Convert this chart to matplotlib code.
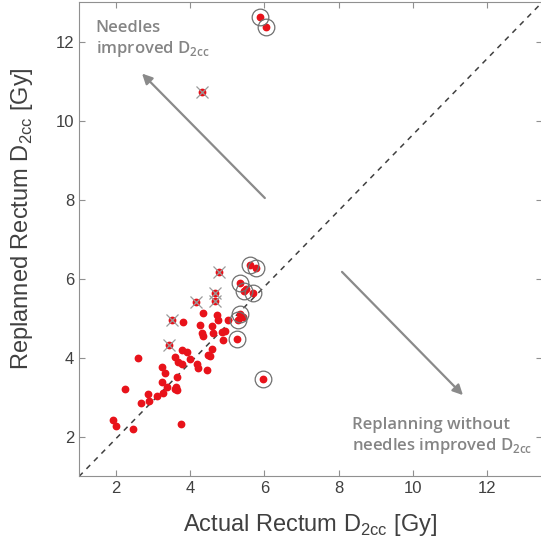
import matplotlib
matplotlib.use("Agg")
import matplotlib.pyplot as plt

# plain patients (red dots only)
x_plain = [1.93, 2.00, 2.24, 2.46, 2.60, 2.66, 2.89, 2.87, 3.10, 3.27, 3.23, 3.36,
           3.58, 3.63, 3.61, 3.63, 3.32, 3.23, 3.75, 3.58, 3.68, 3.77, 3.99, 4.17,
           4.21, 4.44, 3.77, 3.90, 4.58, 4.49, 4.53, 4.31, 4.35, 4.62, 4.85, 4.94,
           4.89, 4.25, 4.58, 3.81, 4.35, 4.71, 4.75, 5.03, 5.51, 5.41]
y_plain = [2.42, 2.27, 3.22, 2.21, 3.99, 2.86, 2.92, 3.10, 3.03, 3.12, 3.40, 3.27,
           3.22, 3.18, 3.27, 3.52, 3.61, 3.78, 2.32, 4.03, 3.91, 3.86, 3.97, 3.86,
           3.74, 3.69, 4.20, 4.16, 4.24, 4.08, 4.05, 4.63, 4.56, 4.63, 4.67, 4.69,
           4.46, 4.84, 4.81, 4.92, 5.15, 5.09, 4.97, 4.97, 5.75, 5.05]

# patients marked with a cross
x_cross = [4.31, 4.77, 4.66, 4.66, 4.15, 3.50, 3.42]
y_cross = [10.73, 6.17, 5.65, 5.45, 5.43, 4.97, 4.33]

# patients marked with a circle
x_circ = [5.88, 6.04, 5.61, 5.76, 5.34, 5.46, 5.68, 5.34, 5.28, 5.25, 5.95]
y_circ = [12.64, 12.39, 6.35, 6.28, 5.90, 5.70, 5.65, 5.12, 4.97, 4.47, 3.47]

ticks = [2, 4, 6, 8, 10, 12]
xmax, ymax = 13.48, 13

red = "#e8121a"
grey = "#8a8a8a"

fig = plt.figure(figsize=(5.41, 5.54), dpi=100)
ax = fig.add_axes([0.146, 0.1399, 0.8558, 0.8556])

# identity guide, corner to corner of the axes
ax.plot([1, xmax], [1, ymax], ls=(0, (3.5, 3.5)), color="#404040", lw=1.1, zorder=1)

ax.plot(x_plain + x_cross + x_circ, y_plain + y_cross + y_circ, "o", color=red,
        ms=4.6, mec=red, zorder=3)
ax.plot(x_cross, y_cross, "x", color="#9a9a9a", ms=9, mew=0.9, zorder=4)
ax.plot(x_circ, y_circ, "o", mfc="none", mec="#707070", ms=12, mew=0.9, zorder=4)

# arrows
arr = dict(arrowstyle="-|>", color=grey, lw=1.6, mutation_scale=15, shrinkA=0, shrinkB=0)
ax.annotate("", xy=(2.70, 11.20), xytext=(6.01, 8.05), arrowprops=arr)
ax.annotate("", xy=(11.35, 3.06), xytext=(8.09, 6.18), arrowprops=arr)

txt_kw = dict(color="#858585", fontsize=12, fontfamily="Open Sans", fontweight="semibold",
              va="top", ha="left", linespacing=1.2)
ax.text(1.45, 12.55, "Needles\nimproved D$_{\\mathregular{2cc}}$", **txt_kw)
ax.text(8.35, 2.5, "Replanning without\nneedles improved D$_{\\mathregular{2cc}}$", **txt_kw)

ax.set_xlim(1, xmax)
ax.set_ylim(1, ymax)
ax.set_xticks(ticks)
ax.set_yticks(ticks)
ax.tick_params(direction="in", top=True, right=True, length=4, color="#909090",
               labelsize=12, labelcolor="#404040")
for lbl in ax.get_xticklabels() + ax.get_yticklabels():
    lbl.set_fontfamily("Liberation Sans")
for s in ax.spines.values():
    s.set_color("#909090")

lab_kw = dict(fontsize=17, fontfamily="Liberation Sans", color="#404040")
ax.set_xlabel("Actual Rectum D$_{\\mathregular{2cc}}$ [Gy]", **lab_kw)
ax.set_ylabel("Replanned Rectum D$_{\\mathregular{2cc}}$ [Gy]", **lab_kw)
ax.xaxis.set_label_coords(0.5, -0.075)
ax.yaxis.set_label_coords(-0.095, 0.545)

fig.savefig("out.png", dpi=100)
